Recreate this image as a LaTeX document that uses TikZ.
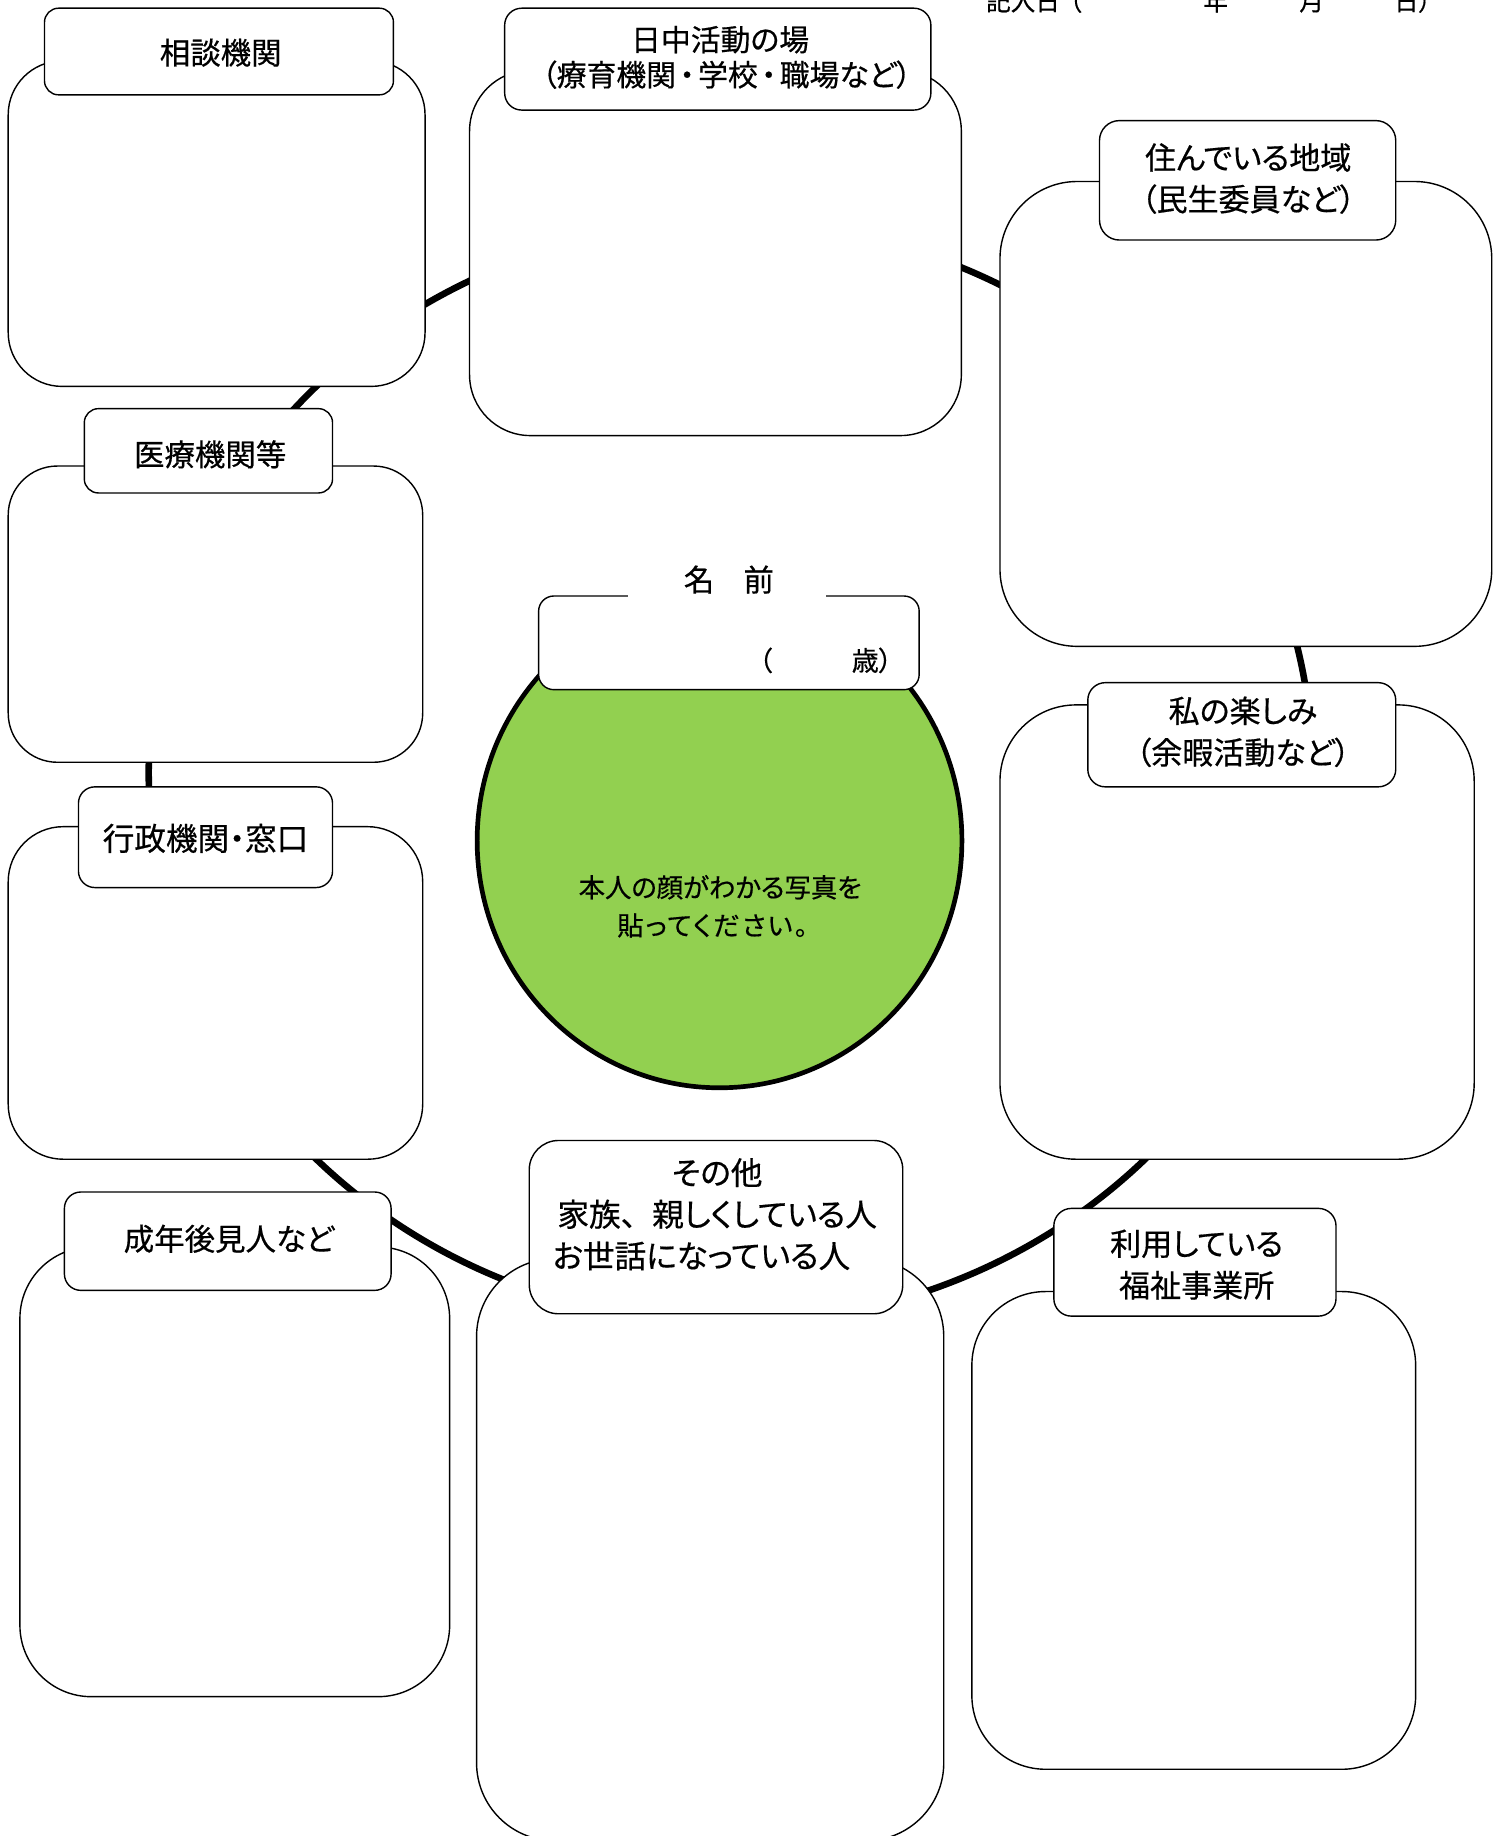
\documentclass[tikz,border=0pt]{standalone}
\usepackage{fontspec}
\setmainfont[RawFeature=+palt,FakeBold=0.5]{Noto Sans CJK JP}
\usetikzlibrary{shapes.geometric}
\definecolor{photogreen}{HTML}{92D050}
\newcommand{\fw}[1]{{\addfontfeature{RawFeature=-palt}#1}}
\tikzset{
  x=1pt,y=-1pt,
  panel/.style={draw=black,fill=white,line width=1.2pt,inner sep=0pt},
  bigbox/.style={panel,minimum width=#1},
  tab/.style={panel,minimum width=#1},
  txt/.style={inner sep=0pt,align=center},
  tabtext/.style={txt,font=\fontsize{26.5}{35.5}\selectfont},
}
\begin{document}
\begin{tikzpicture}
\useasboundingbox (0,0) rectangle (1282,1568);
\clip (0,0) rectangle (1282,1568);
\node[draw=black,line width=5.6pt,ellipse,inner sep=0pt,minimum width=994pt,minimum height=940pt] (ring) at (624,660) {};
% large boxes
\node[bigbox=356pt,minimum height=278pt,rounded corners=46pt] (A) at (185,191) {};
\node[bigbox=420pt,minimum height=312pt,rounded corners=52pt] (B) at (611,216) {};
\node[bigbox=420pt,minimum height=397pt,rounded corners=66pt] (C) at (1064,353.5) {};
\node[bigbox=354pt,minimum height=253pt,rounded corners=42pt] (D) at (184,524.5) {};
\node[bigbox=405pt,minimum height=388pt,rounded corners=65pt] (E) at (1056.5,796) {};
\node[bigbox=354pt,minimum height=284pt,rounded corners=47pt] (F) at (184,848) {};
\node[bigbox=367pt,minimum height=384pt,rounded corners=61pt] (G) at (200.5,1257) {};
\node[bigbox=399pt,minimum height=497pt,rounded corners=66.5pt] (H) at (606.5,1323.5) {};
\node[bigbox=379pt,minimum height=408pt,rounded corners=63pt] (I) at (1019.5,1307) {};
% tabs
\node[tab=298pt,minimum height=74pt,rounded corners=12pt] (a) at (187,44) {};
\node[tab=364pt,minimum height=87pt,rounded corners=14.5pt] (b) at (613,50.5) {};
\node[tab=253pt,minimum height=102pt,rounded corners=17pt] (c) at (1065.5,154) {};
\node[tab=212pt,minimum height=72pt,rounded corners=12pt] (d) at (178,385) {};
\node[tab=263pt,minimum height=89pt,rounded corners=15pt] (e) at (1060.5,627.5) {};
\node[tab=217pt,minimum height=86pt,rounded corners=14pt] (f) at (175.5,715) {};
\node[tab=279pt,minimum height=84pt,rounded corners=14pt] (g) at (194.5,1060) {};
\node[tab=319pt,minimum height=148pt,rounded corners=25pt] (h) at (611.5,1048) {};
\node[tab=241pt,minimum height=92pt,rounded corners=15pt] (i) at (1020.5,1078) {};
% tab texts
\node[tabtext,font=\fontsize{26}{35.5}\selectfont] (ta) at (188.5,45) {相談機関};
\node[tabtext,font=\fontsize{25.5}{30}\selectfont] (tb) at (620.5,49) {日中活動の場\hspace*{11pt}\\（療育機関\hspace{3pt}・\hspace{3pt}学校\hspace{3pt}・\hspace{3pt}職場など）};
\node[tabtext] (tc) at (1066,152.5) {住んでいる地域\\（民生委員など）};
\node[tabtext,font=\fontsize{26}{35.5}\selectfont] (td) at (179.5,388) {医療機関等};
\node[tabtext] (te) at (1061.5,625) {私の楽しみ\\（余暇活動など）};
\node[tabtext,font=\fontsize{27}{35.5}\selectfont] (tf) at (175.5,716) {行政機関・窓口};
\node[tabtext,font=\fontsize{26}{35.5}\selectfont] (tg) at (195.5,1058) {成年後見人など};
\node[tabtext,font=\fontsize{27}{35.5}\selectfont] (th) at (612.5,1037) {その他\\家族\fw{、}親しくしている人\\お世話になっている人　};
\node[tabtext] (ti) at (1022,1080) {利用している\\福祉事業所};
% photo circle and name
\node[draw=black,fill=photogreen,line width=4pt,ellipse,inner sep=0pt,minimum width=414pt,minimum height=422pt] (photo) at (614.5,718) {};
\node[txt,font=\fontsize{22.5}{32.5}\selectfont] (phototext) at (615,774) {本人の顔がわかる写真を\\{\addfontfeature{LetterSpace=8}貼ってください。}\hspace*{13pt}};
\node[panel,minimum width=325pt,minimum height=80pt,rounded corners=13pt] (n) at (622.5,549) {};
\node[fill=white,inner sep=0pt,minimum width=169pt,minimum height=34pt,font=\fontsize{26}{30}\selectfont] (nm) at (620.5,495) {\hspace{4pt}名\hspace{25pt}前};
\node[txt,font=\fontsize{23}{28}\selectfont] (age) at (705,564) {（\hspace{68pt}歳）};
\node[txt,anchor=base west,font=\fontsize{21}{24}\selectfont] (date) at (842,9) {記入日\hspace{8pt}（\hspace{104pt}年\hspace{61pt}月\hspace{60pt}日）};
\end{tikzpicture}
\end{document}
